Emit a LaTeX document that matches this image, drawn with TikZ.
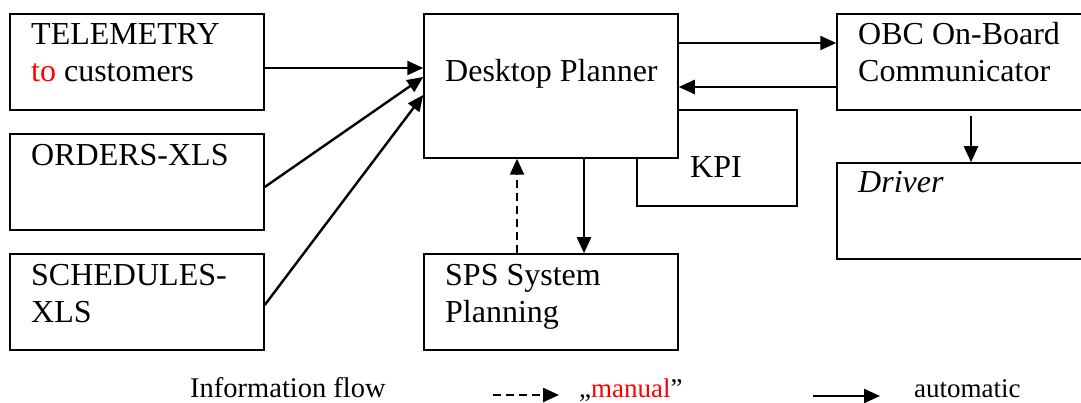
\documentclass[tikz,border=0pt]{standalone}
\usepackage{fontspec}
\setmainfont{Liberation Serif}
\usetikzlibrary{arrows.meta}
\begin{document}
\begin{tikzpicture}[x=1pt,y=-1pt,
  box/.style={draw, line width=1.5pt, rectangle, inner sep=0pt,
    minimum width=254pt, minimum height=96pt},
  txt/.style={anchor=base west, inner sep=0pt, align=left,
    font=\fontsize{32}{37}\selectfont},
  legtxt/.style={anchor=base west, inner sep=0pt,
    font=\fontsize{27}{32}\selectfont},
  flow/.style={line width=2.4pt, -{Triangle[length=16pt,width=14pt]}},
  manualflow/.style={flow, dash pattern=on 8pt off 5pt}]

\useasboundingbox (0,0) rectangle (1081,403);
\clip (0,0) rectangle (1081,403);

% input boxes on the left
\node[box] (tele) at (137,62) {};
\node[box] (orders) at (137,182) {};
\node[box] (sched) at (137,302) {};

% KPI box sits behind the planner
\node[box, minimum width=160pt] (kpi) at (717,158) {};
\node[box, fill=white, minimum height=144pt] (dp) at (551,86) {};

% planning system and vehicle side
\node[box] (sps) at (551,302) {};
\node[box] (obc) at (964,62) {};
\node[box] (drv) at (964,211) {};

% box texts (multi-line nodes are placed by the baseline of their last line)
\node[txt] (teletxt) at (31,82) {TELEMETRY\\\textcolor{red}{to} customers};
\node[txt] (orderstxt) at (31,166) {ORDERS-XLS};
\node[txt] (schedtxt) at (31,322) {SCHEDULES-\\XLS};
\node[txt] (dptxt) at (445,82) {Desktop Planner};
\node[txt] (kpitxt) at (690,178) {KPI};
\node[txt] (spstxt) at (445,322) {SPS System\\Planning};
\node[txt] (obctxt) at (858,82) {OBC On-Board\\Communicator};
\node[txt] (drvtxt) at (858,193) {\itshape Driver};

% information flows
\draw[flow] ([yshift=-6pt]tele.east) -- ([yshift=18pt]dp.west);
\draw[flow] ([yshift=-5pt]orders.east) -- ([yshift=9pt]dp.west);
\draw[flow] ([yshift=-3pt]sched.east) -- ([yshift=-9pt]dp.west);
\draw[flow] ([yshift=43pt]dp.east) -- ([yshift=19pt]obc.west);
\draw[flow] ([yshift=-25pt]obc.west) -- ([yshift=-1pt]dp.east);
\draw[flow] ([xshift=33pt]dp.south) -- ([xshift=33pt]sps.north);
\draw[manualflow] ([xshift=-34pt]sps.north) -- ([xshift=-34pt]dp.south);
\draw[flow] ([xshift=7pt,yshift=-5pt]obc.south) -- ([xshift=7pt]drv.north);

% legend
\node[legtxt, font=\fontsize{28.5}{33}\selectfont] (legtitle) at (190,397) {Information flow};
\coordinate (mA) at (493,395);
\coordinate (mB) at (559,395);
\draw[manualflow] (mA) -- (mB);
\node[legtxt] (legman) at (579,397) {„\textcolor{red}{manual}”};
\coordinate (aA) at (813,396);
\coordinate (aB) at (880,396);
\draw[flow] (aA) -- (aB);
\node[legtxt] (legauto) at (914,397) {automatic};
\end{tikzpicture}
\end{document}
